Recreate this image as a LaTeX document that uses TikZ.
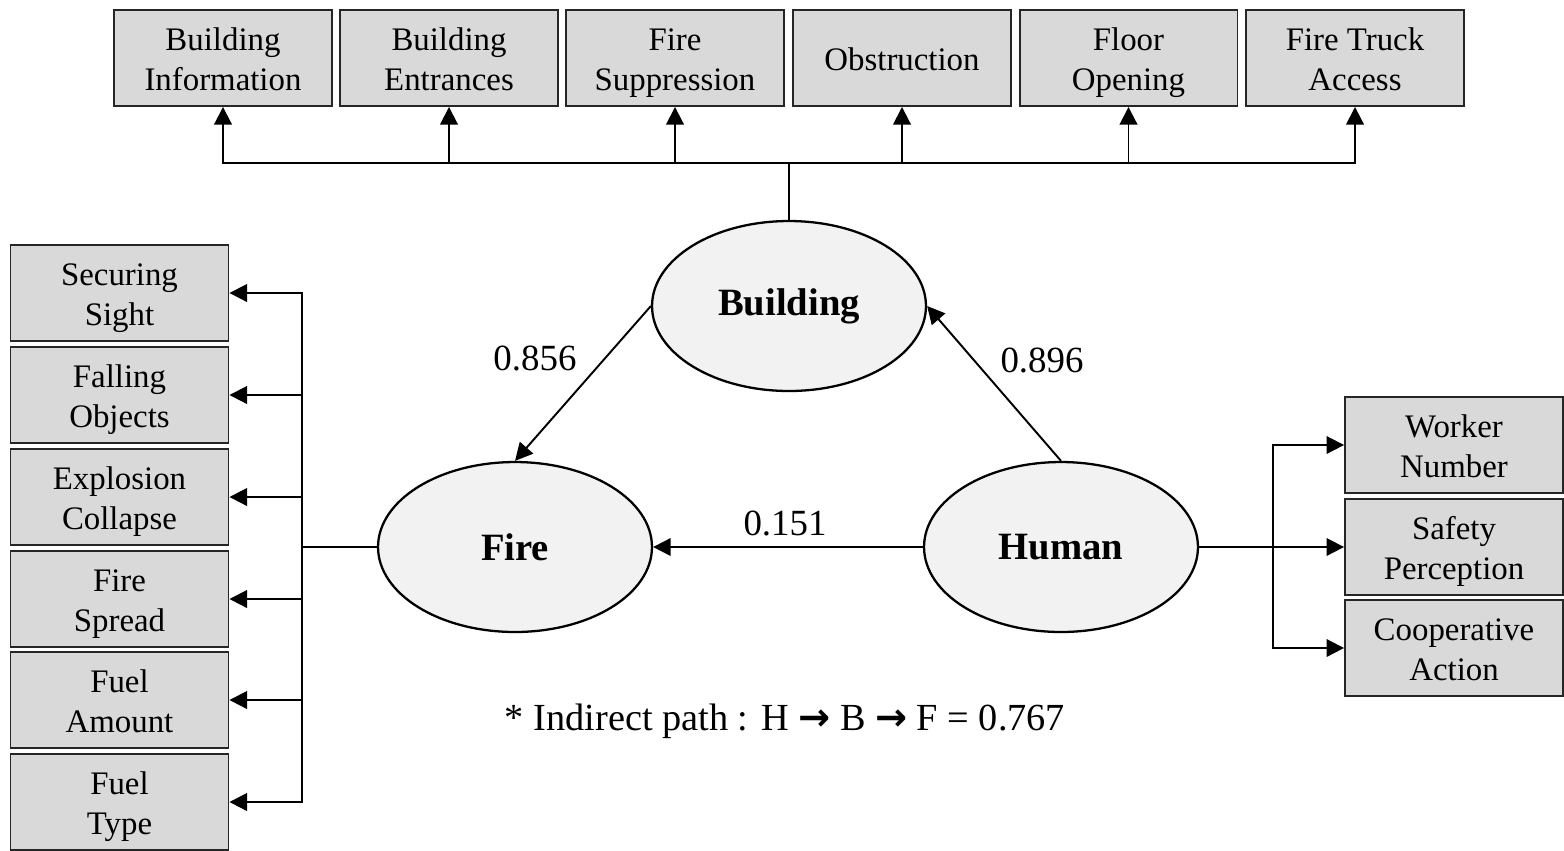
\documentclass[tikz,border=0pt]{standalone}
\usepackage{fontspec}
\setmainfont{Liberation Serif}
\newfontfamily\arrowfont{DejaVu Sans}
\usetikzlibrary{arrows.meta,shapes.geometric}
\definecolor{boxgray}{HTML}{D9D9D9}
\definecolor{ellfill}{HTML}{F2F2F2}
\newcommand{\pathto}{{\arrowfont\bfseries →}}
% invisible rules that fix the first line's height and the last line's depth
\newcommand{\topstrut}{\rule{0pt}{19.5pt}}
\newcommand{\botstrut}{\rule[-5.6pt]{0pt}{5.6pt}}
% two-line indicator label
\newcommand{\twolines}[2]{\topstrut#1\\#2\botstrut}
\begin{document}
\begin{tikzpicture}[x=0.02cm,y=-0.02cm,
  box/.style={draw=black!85, line width=1.1pt, fill=boxgray,
    minimum width=4.36cm, minimum height=1.92cm, align=center, inner sep=0pt,
    font=\fontsize{18.7}{22.7}\selectfont},
  latent/.style={ellipse, draw, line width=1.3pt, fill=ellfill,
    minimum width=5.48cm, minimum height=3.4cm, inner sep=0pt,
    font=\fontsize{22}{24}\selectfont\bfseries},
  link/.style={line width=1.1pt, -{Triangle[length=10pt,width=10pt]}},
  wire/.style={line width=1.1pt},
  coef/.style={font=\fontsize{21}{24}\selectfont, inner sep=0pt}]
\useasboundingbox (0,0) rectangle (1564,850);

% latent constructs
\node[latent] (B) at (789,306) {\raisebox{-3pt}{Building}};
\node[latent] (F) at (515,547) {Fire};
\node[latent] (H) at (1061,547) {Human};

% building indicators
\node[box] (b1) at (223,58)    {\twolines{Building}{Information}};
\node[box] (b2) at (449,58)    {\twolines{Building}{Entrances}};
\node[box] (b3) at (675,58)    {\twolines{Fire}{Suppression}};
\node[box] (b4) at (902,58)    {\topstrut Obstruction\botstrut};
\node[box] (b5) at (1128.5,58) {\twolines{Floor}{Opening}};
\node[box] (b6) at (1355,58)   {\twolines{Fire Truck}{Access}};

% fire indicators
\node[box] (f1) at (119.5,293) {\twolines{Securing}{Sight}};
\node[box] (f2) at (119.5,395) {\twolines{Falling}{Objects}};
\node[box] (f3) at (119.5,497) {\twolines{Explosion}{Collapse}};
\node[box] (f4) at (119.5,599) {\twolines{Fire}{Spread}};
\node[box] (f5) at (119.5,700) {\twolines{Fuel}{Amount}};
\node[box] (f6) at (119.5,802) {\twolines{Fuel}{Type}};

% human indicators
\node[box] (h1) at (1454,445) {\twolines{Worker}{Number}};
\node[box] (h2) at (1454,547) {\twolines{Safety}{Perception}};
\node[box] (h3) at (1454,648) {\twolines{Cooperative}{Action}};

% building to its indicators
\draw[wire] (B.north) -- ++(0,-57) coordinate (bhub);
\foreach \t in {b1,b2,b3,b4,b5,b6} \draw[link] (bhub) -| (\t.south);

% fire to its indicators
\draw[wire] (F.west) -- ++(-75,0) coordinate (fhub);
\foreach \t in {f1,f2,f3,f4,f5,f6} \draw[link] (fhub) |- (\t.east);

% human to its indicators
\draw[wire] (H.east) -- ++(74,0) coordinate (hhub);
\foreach \t in {h1,h2,h3} \draw[link] (hhub) |- (\t.west);

% structural paths
\draw[link] (B.west) -- (F.north);
\draw[link] (H.north) -- (B.east);
\draw[link] (H.west) -- (F.east);

\node[coef] (c1) at (535,358) {0.856};
\node[coef] (c2) at (1042,360) {0.896};
\node[coef] (c3) at (785,523) {0.151};
\node[coef, font=\fontsize{21.8}{24}\selectfont] (note) at (785,721)
  {* Indirect path : H \pathto{} B \pathto{} F = 0.767};
\end{tikzpicture}
\end{document}
